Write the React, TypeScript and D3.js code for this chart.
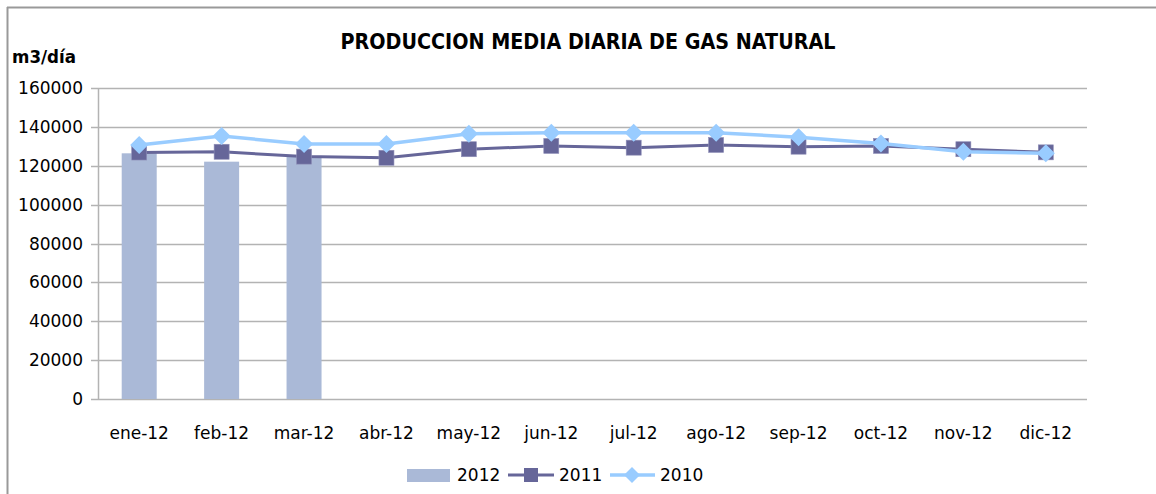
import * as d3 from 'd3';

const months = ['ene-12', 'feb-12', 'mar-12', 'abr-12', 'may-12', 'jun-12', 'jul-12', 'ago-12', 'sep-12', 'oct-12', 'nov-12', 'dic-12'];
const values2012 = [126400, 122100, 124700];
const values2011 = [126800, 127200, 124700, 124100, 128500, 130200, 129300, 130700, 129800, 130200, 128500, 126900];
const values2010 = [130700, 135300, 131200, 131200, 136400, 137000, 137000, 137000, 134700, 131500, 127200, 126400];
const yTicks = [0, 20000, 40000, 60000, 80000, 100000, 120000, 140000, 160000];

const W = 1156;
const H = 494;
const plot = { left: 98, right: 1087, top: 88, bottom: 399 };
const font = "'DejaVu Sans', sans-serif";

const colBar = '#aab9d7';
const col2011 = '#666699';
const col2010 = '#99ccff';
const grid = '#b3b3b3';

function App() {
  const x = d3.scaleBand<string>().domain(months).range([plot.left, plot.right]);
  const y = d3.scaleLinear().domain([0, 160000]).range([plot.bottom, plot.top]);
  const cx = (m: string) => (x(m) ?? 0) + x.bandwidth() / 2;
  const barW = 35;

  const line = d3
    .line<number>()
    .x((_, i) => cx(months[i]))
    .y((d) => y(d));

  const diamond = (px: number, py: number, r: number) =>
    `M${px},${py - r}L${px + r},${py}L${px},${py + r}L${px - r},${py}Z`;

  return (
    <svg width={W} height={H} style={{ position: 'absolute', left: 0, top: 0 }} fontFamily={font}>
      <rect x={0} y={0} width={W} height={H} fill="#fff" />
      <line x1={7} x2={W} y1={7.5} y2={7.5} stroke="#999" strokeWidth={2} />
      <line x1={7.5} x2={7.5} y1={7} y2={H} stroke="#999" strokeWidth={2} />

      <text x={588} y={49} textAnchor="middle" fontWeight="bold" fontSize={20.5} textLength={495} lengthAdjust="spacingAndGlyphs">
        PRODUCCION MEDIA DIARIA DE GAS NATURAL
      </text>
      <text x={12} y={63} fontWeight="bold" fontSize={17} textLength={64} lengthAdjust="spacingAndGlyphs">
        m3/día
      </text>

      {yTicks.map((t) => (
        <g key={t}>
          <line x1={91} x2={plot.right} y1={Math.round(y(t)) + 0.5} y2={Math.round(y(t)) + 0.5} stroke={grid} strokeWidth={1.5} />
          <text x={83} y={y(t)} dy="0.36em" textAnchor="end" fontSize={17} fill="#000">
            {t}
          </text>
        </g>
      ))}
      <line x1={plot.left + 0.5} x2={plot.left + 0.5} y1={plot.top} y2={plot.bottom} stroke={grid} strokeWidth={1.5} />

      {months.map((m) => (
        <text key={m} x={cx(m)} y={433} dy="0.36em" textAnchor="middle" fontSize={17}>
          {m}
        </text>
      ))}

      {values2012.map((v, i) => (
        <rect key={i} x={cx(months[i]) - barW / 2} y={y(v)} width={barW} height={plot.bottom - y(v)} fill={colBar} />
      ))}

      <path d={line(values2011) ?? ''} fill="none" stroke={col2011} strokeWidth={3} />
      {values2011.map((v, i) => (
        <rect key={i} x={cx(months[i]) - 7.5} y={y(v) - 7.5} width={15} height={15} fill={col2011} stroke="#8f8fb8" strokeWidth={0.6} />
      ))}

      <path d={line(values2010) ?? ''} fill="none" stroke={col2010} strokeWidth={3.5} />
      {values2010.map((v, i) => (
        <path key={i} d={diamond(cx(months[i]), y(v), 9)} fill={col2010} />
      ))}

      <g>
        <rect x={407} y={469} width={43} height={13} fill={colBar} />
        <text x={457} y={475} dy="0.36em" fontSize={17}>2012</text>
        <line x1={508} x2={554} y1={475} y2={475} stroke={col2011} strokeWidth={3} />
        <rect x={524} y={468} width={14} height={14} fill={col2011} />
        <text x={559} y={475} dy="0.36em" fontSize={17}>2011</text>
        <line x1={610} x2={655} y1={475} y2={475} stroke={col2010} strokeWidth={3.5} />
        <path d={diamond(632, 475, 8)} fill={col2010} />
        <text x={660} y={475} dy="0.36em" fontSize={17}>2010</text>
      </g>
    </svg>
  );
}

export default App;
